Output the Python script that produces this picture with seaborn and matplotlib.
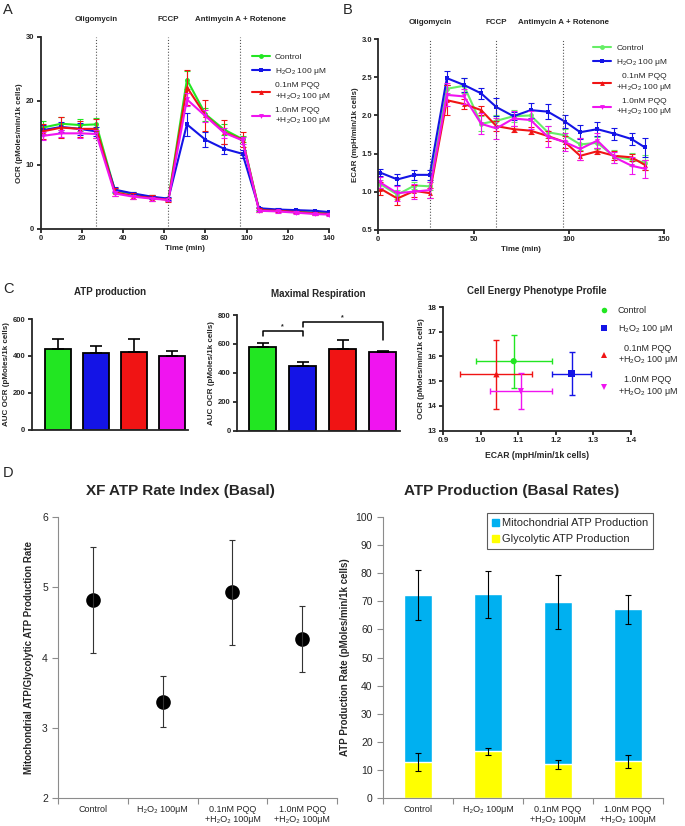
import numpy as np
import pandas as pd
import matplotlib
matplotlib.use('Agg')
import matplotlib.pyplot as plt
from matplotlib.lines import Line2D
from matplotlib.patches import Patch
import seaborn as sns

# ---- data ----
groups = ['Control', 'H2O2', 'PQQ 0.1', 'PQQ 1.0']
legend_labels = ['Control', 'H$_2$O$_2$ 100 μM',
                 '0.1nM PQQ\n+H$_2$O$_2$ 100 μM', '1.0nM PQQ\n+H$_2$O$_2$ 100 μM']
colors_a = ['#22E622', '#1414E6', '#F01414', '#F014F0']
colors_b = ['#66EE66', '#1414E6', '#F01414', '#F014F0']
markers = ['o', 's', '^', 'v']

time_min = [1, 10, 19, 27, 36, 45, 54, 62, 71, 80, 89, 98, 106, 115, 124, 133, 140]
events = ['Oligomycin', 'FCCP', 'Antimycin A + Rotenone']
event_times = [27, 62, 97]

ocr_control = [15.8, 16.4, 16.2, 16.3, 6.0, 5.4, 4.9, 4.6, 23.3, 17.9, 15.5, 14.0, 3.0, 2.9, 2.7, 2.5, 2.4]
ocr_h2o2 = [15.4, 15.9, 15.6, 15.2, 6.1, 5.5, 5.0, 4.7, 16.3, 13.9, 12.5, 11.7, 3.2, 3.0, 2.9, 2.8, 2.6]
ocr_pqq01 = [15.2, 15.8, 15.6, 15.6, 5.7, 5.1, 4.8, 4.5, 22.1, 17.7, 15.1, 13.9, 2.9, 2.8, 2.6, 2.4, 2.3]
ocr_pqq10 = [14.5, 14.9, 14.9, 14.8, 5.5, 5.0, 4.7, 4.5, 20.2, 17.6, 15.0, 13.8, 2.8, 2.7, 2.5, 2.3, 2.2]
ocr_err_control = [1.0, 1.0, 1.0, 1.0, 0.4, 0.3, 0.3, 0.2, 1.4, 1.0, 0.8, 0.5, 0.2, 0.2, 0.2, 0.2, 0.2]
ocr_err_h2o2 = [0.8, 0.8, 0.9, 0.7, 0.4, 0.3, 0.3, 0.2, 1.8, 1.2, 0.8, 0.6, 0.2, 0.2, 0.2, 0.2, 0.2]
ocr_err_pqq01 = [1.2, 1.6, 1.3, 1.5, 0.6, 0.5, 0.4, 0.3, 2.7, 2.4, 1.9, 1.2, 0.3, 0.2, 0.2, 0.2, 0.2]
ocr_err_pqq10 = [0.6, 0.6, 0.7, 0.6, 0.4, 0.3, 0.3, 0.2, 1.0, 0.9, 0.8, 0.6, 0.2, 0.2, 0.2, 0.2, 0.2]

ecar_control = [1.10, 0.96, 1.08, 1.07, 2.35, 2.39, 1.89, 1.93, 1.99, 2.00, 1.78, 1.74, 1.62, 1.64, 1.46, 1.42, 1.38]
ecar_h2o2 = [1.25, 1.16, 1.22, 1.22, 2.49, 2.40, 2.29, 2.11, 1.99, 2.07, 2.05, 1.92, 1.78, 1.82, 1.76, 1.69, 1.58]
ecar_pqq01 = [1.04, 0.91, 1.01, 0.98, 2.20, 2.15, 2.07, 1.86, 1.82, 1.80, 1.73, 1.65, 1.47, 1.53, 1.47, 1.45, 1.35]
ecar_pqq10 = [1.12, 0.98, 1.00, 1.02, 2.27, 2.25, 1.89, 1.83, 1.96, 1.94, 1.72, 1.65, 1.56, 1.67, 1.45, 1.34, 1.30]
ecar_err_control = [0.05, 0.06, 0.05, 0.05, 0.05, 0.10, 0.10, 0.07, 0.08, 0.07, 0.08, 0.08, 0.08, 0.08, 0.08, 0.09, 0.10]
ecar_err_h2o2 = [0.05, 0.07, 0.07, 0.07, 0.09, 0.09, 0.07, 0.12, 0.05, 0.10, 0.10, 0.09, 0.09, 0.09, 0.08, 0.08, 0.13]
ecar_err_pqq01 = [0.08, 0.08, 0.08, 0.07, 0.20, 0.06, 0.06, 0.07, 0.04, 0.05, 0.07, 0.08, 0.06, 0.04, 0.06, 0.05, 0.06]
ecar_err_pqq10 = [0.07, 0.10, 0.10, 0.10, 0.15, 0.10, 0.14, 0.14, 0.10, 0.12, 0.14, 0.12, 0.14, 0.10, 0.07, 0.11, 0.12]

atp_auc = [436, 418, 422, 398]
atp_auc_err = [57, 38, 67, 28]
maxresp_auc = [576, 447, 562, 544]
maxresp_auc_err = [32, 30, 65, 9]

phen_ecar = [1.088, 1.242, 1.042, 1.107]
phen_ecar_err = [0.101, 0.051, 0.096, 0.082]
phen_ocr = [15.81, 15.31, 15.28, 14.60]
phen_ocr_err = [1.07, 0.88, 1.39, 0.72]

d_labels = ['Control', 'H₂O₂ 100μM', '0.1nM PQQ\n+H₂O₂ 100μM', '1.0nM PQQ\n+H₂O₂ 100μM']
rate_index = [4.82, 3.37, 4.93, 4.27]
rate_index_err = [0.75, 0.36, 0.75, 0.47]
glyco_atp = [12.7, 16.6, 11.9, 13.0]
glyco_atp_err = [3.1, 1.2, 1.6, 2.4]
mito_atp = [59.6, 55.9, 57.9, 54.2]
total_atp_err = [8.9, 8.4, 9.8, 5.2]

ocr_means = [ocr_control, ocr_h2o2, ocr_pqq01, ocr_pqq10]
ocr_errs = [ocr_err_control, ocr_err_h2o2, ocr_err_pqq01, ocr_err_pqq10]
ecar_means = [ecar_control, ecar_h2o2, ecar_pqq01, ecar_pqq10]
ecar_errs = [ecar_err_control, ecar_err_h2o2, ecar_err_pqq01, ecar_err_pqq10]

# ---- style ----
sns.set_style('ticks')
plt.rcParams['font.family'] = ['Liberation Sans', 'DejaVu Sans']
plt.rcParams['mathtext.fontset'] = 'custom'
plt.rcParams['mathtext.rm'] = 'Liberation Sans'
plt.rcParams['mathtext.it'] = 'Liberation Sans:italic'
plt.rcParams['mathtext.bf'] = 'Liberation Sans:bold'

W, H = 685, 826
fig = plt.figure(figsize=(W / 100, H / 100), dpi=100)


def px_axes(l, t, r, b):
    return fig.add_axes([l / W, 1 - b / H, (r - l) / W, (b - t) / H])


def prism_axes(ax, lw=1.3, size=5.5):
    sns.despine(ax=ax)
    for s in ['left', 'bottom']:
        ax.spines[s].set_linewidth(lw)
    ax.tick_params(width=lw, length=3, labelsize=size, pad=1.5)
    for lab in ax.get_xticklabels() + ax.get_yticklabels():
        lab.set_fontweight('bold')


def time_panel(ax, means, errs, colors, ylabel, ylim, yticks, xlim, xticks, label_y, leg_anchor, center_leg):
    for i in range(4):
        sns.lineplot(x=time_min, y=means[i], ax=ax, color=colors[i], marker=markers[i],
                     markersize=3.5, markeredgewidth=0, linewidth=1.5)
        ax.errorbar(time_min, means[i], yerr=errs[i], fmt='none', ecolor=colors[i],
                    elinewidth=0.8, capsize=2, capthick=0.8)
    for t, name in zip(event_times, events):
        ax.axvline(t, color='#555555', ls=':', lw=0.8)
        ax.text(t, label_y, name, transform=ax.get_xaxis_transform(), ha='center',
                va='bottom', fontsize=5.7, fontweight='bold')
    ax.set_xlim(*xlim)
    ax.set_ylim(*ylim)
    ax.set_xticks(xticks)
    ax.set_yticks(yticks)
    ax.set_xlabel('Time (min)', fontsize=5.7, fontweight='bold', labelpad=2)
    ax.set_ylabel(ylabel, fontsize=5.7, fontweight='bold', labelpad=2)
    prism_axes(ax)
    handles = [Line2D([0], [0], color=colors[i], marker=markers[i], markersize=3.5,
                      markeredgewidth=0, lw=1.5) for i in range(4)]
    leg = ax.legend(handles, legend_labels, loc='upper left', bbox_to_anchor=leg_anchor,
                    frameon=False, fontsize=6, handlelength=2.2, labelspacing=0.6,
                    borderaxespad=0, handletextpad=0.6)
    if center_leg:
        for txt in leg.get_texts():
            txt.set_multialignment('center')


# ---- A: OCR time course ----
axA = px_axes(40.7, 36.7, 329, 228.7)
time_panel(axA, ocr_means, ocr_errs, colors_a, 'OCR (pMoles/min/1k cells)', (0, 30),
           [0, 10, 20, 30], (0, 140), range(0, 141, 20), 1.07, (0.72, 0.93), False)

# ---- B: ECAR time course ----
axB = px_axes(378.3, 39.3, 664, 229.7)
time_panel(axB, ecar_means, ecar_errs, colors_b, 'ECAR (mpH/min/1k cells)', (0.5, 3.0),
           [0.5, 1.0, 1.5, 2.0, 2.5, 3.0], (0, 150), [0, 50, 100, 150], 1.07, (0.74, 0.99), True)
axB.yaxis.set_major_formatter(matplotlib.ticker.FormatStrFormatter('%.1f'))


# ---- C: AUC bars ----
def auc_panel(ax, vals, errs, title, ylim, yticks, xlim, pad):
    sns.barplot(x=groups, y=vals, hue=groups, palette=colors_a, legend=False, ax=ax,
                width=0.68, edgecolor='black', linewidth=1.3, errorbar=None, saturation=1)
    ax.errorbar(range(4), vals, yerr=[np.zeros(4), errs], fmt='none', ecolor='black',
                elinewidth=1.2, capsize=4, capthick=1.2)
    ax.set_xlim(*xlim)
    ax.set_ylim(*ylim)
    ax.set_yticks(yticks)
    ax.set_xticks([])
    ax.set_xlabel('')
    ax.set_ylabel('AUC OCR (pMoles/1k cells)', fontsize=5.8, fontweight='bold', labelpad=2)
    ax.set_title(title, fontsize=7, fontweight='bold', pad=pad)
    prism_axes(ax)


axC1 = px_axes(31.7, 319, 188, 429.5)
auc_panel(axC1, atp_auc, atp_auc_err, 'ATP production', (0, 600), [0, 200, 400, 600],
          (-0.69, 3.43), 17)

axC2 = px_axes(237, 315, 400, 430.7)
auc_panel(axC2, maxresp_auc, maxresp_auc_err, 'Maximal Respiration', (0, 800),
          [0, 200, 400, 600, 800], (-0.64, 3.43), 13)
axC2.plot([0, 0, 1, 1], [655, 689, 689, 655], color='black', lw=1.1, clip_on=False)
axC2.text(0.5, 695, '*', ha='center', va='bottom', fontsize=5, fontweight='bold')
axC2.plot([1, 1, 3, 3], [719, 754, 754, 627], color='black', lw=1.1, clip_on=False)
axC2.text(2, 760, '*', ha='center', va='bottom', fontsize=5, fontweight='bold')

# ---- C: energy phenotype ----
axC3 = px_axes(443, 307, 631, 430.7)
phen = pd.DataFrame({'group': groups, 'ecar': phen_ecar, 'ocr': phen_ocr})
sns.scatterplot(data=phen, x='ecar', y='ocr', hue='group', style='group', palette=colors_a,
                markers=dict(zip(groups, markers)), s=20, linewidth=0, legend=False, ax=axC3)
for i in range(4):
    axC3.errorbar(phen_ecar[i], phen_ocr[i], xerr=phen_ecar_err[i], yerr=phen_ocr_err[i],
                  fmt='none', ecolor=colors_a[i], elinewidth=1.0, capsize=2.5, capthick=1.0)
axC3.set_xlim(0.9, 1.4)
axC3.set_ylim(13, 18)
axC3.set_xticks([0.9, 1.0, 1.1, 1.2, 1.3, 1.4])
axC3.set_yticks([13, 14, 15, 16, 17, 18])
axC3.set_xlabel('ECAR (mpH/min/1k cells)', fontsize=6.2, fontweight='bold', labelpad=5)
axC3.set_ylabel('OCR (pMoles/min/1k cells)', fontsize=5.8, fontweight='bold', labelpad=2)
axC3.set_title('Cell Energy Phenotype Profile', fontsize=7, fontweight='bold', pad=9)
prism_axes(axC3, size=5.8)
c3_handles = [Line2D([0], [0], color=colors_a[i], marker=markers[i], markersize=4,
                     markeredgewidth=0, lw=0) for i in range(4)]
leg = axC3.legend(c3_handles, legend_labels, loc='upper left', bbox_to_anchor=(0.8, 1.04),
                  frameon=False, fontsize=6.5, handlelength=1.5, labelspacing=0.95,
                  borderaxespad=0, handletextpad=0.8)
for txt in leg.get_texts():
    txt.set_multialignment('center')


# ---- D: excel style panels ----
def excel_axes(ax):
    sns.despine(ax=ax)
    for s in ['left', 'bottom']:
        ax.spines[s].set_color('#8c8c8c')
        ax.spines[s].set_linewidth(0.8)
    ax.set_xlim(-0.5, 3.5)
    ax.set_xticks(range(4))
    ax.set_xticklabels(d_labels, fontsize=6.5)
    ax.set_xticks([-0.5, 0.5, 1.5, 2.5, 3.5], minor=True)
    ax.tick_params(axis='x', which='major', length=0, pad=5)
    ax.tick_params(axis='x', which='minor', length=4, color='#8c8c8c', width=0.8)
    ax.tick_params(axis='y', length=4, color='#8c8c8c', width=0.8, labelsize=7.5)
    ax.set_xlabel('')


axD1 = px_axes(58.3, 517.3, 337, 797.7)
sns.pointplot(x=d_labels, y=rate_index, ax=axD1, color='black', linestyle='none',
              marker='o', markersize=8.5, errorbar=None)
axD1.errorbar(range(4), rate_index, yerr=rate_index_err, fmt='none', ecolor='#333333',
              elinewidth=0.8, capsize=2.5, capthick=0.8)
axD1.set_ylim(2, 6)
axD1.set_yticks([2, 3, 4, 5, 6])
excel_axes(axD1)
axD1.set_ylabel('Mitochondrial ATP/Glycolytic ATP Production Rate', fontsize=7,
                fontweight='bold', labelpad=6)
axD1.set_title('XF ATP Rate Index (Basal)', fontsize=11, fontweight='bold', pad=16, x=0.44)

axD2 = px_axes(383, 517.3, 663, 797.7)
total_atp = [m + g for m, g in zip(mito_atp, glyco_atp)]
sns.barplot(x=d_labels, y=total_atp, ax=axD2, color='#00B0F0', width=0.4, errorbar=None,
            saturation=1)
sns.barplot(x=d_labels, y=glyco_atp, ax=axD2, color='#FFFF00', width=0.4, errorbar=None,
            saturation=1)
axD2.errorbar(range(4), total_atp, yerr=total_atp_err, fmt='none', ecolor='black',
              elinewidth=0.8, capsize=2.5, capthick=0.8)
axD2.errorbar(range(4), glyco_atp, yerr=glyco_atp_err, fmt='none', ecolor='black',
              elinewidth=0.8, capsize=2.5, capthick=0.8)
axD2.set_ylim(0, 100)
axD2.set_yticks(range(0, 101, 10))
excel_axes(axD2)
axD2.set_ylabel('ATP Production Rate (pMoles/min/1k cells)', fontsize=7,
                fontweight='bold', labelpad=4)
axD2.set_title('ATP Production (Basal Rates)', fontsize=11, fontweight='bold', pad=16, x=0.46)
d2_handles = [Patch(color='#00B0F0'), Patch(color='#FFFF00')]
leg = axD2.legend(d2_handles, ['Mitochondrial ATP Production', 'Glycolytic ATP Production'],
                  loc='upper right', bbox_to_anchor=(0.985, 1.035), fontsize=8,
                  frameon=True, fancybox=False, edgecolor='#333333', handlelength=0.6,
                  handleheight=0.6, handletextpad=0.3, borderpad=0.45, labelspacing=0.55)
leg.get_frame().set_linewidth(0.8)

# ---- panel letters ----
for letter, (x, y) in zip('ABCD', [(3, 3), (343, 3), (3, 282), (3, 466)]):
    fig.text(x / W, 1 - y / H, letter, fontsize=10.5, va='top', ha='left')

fig.savefig('out.png', dpi=100)
